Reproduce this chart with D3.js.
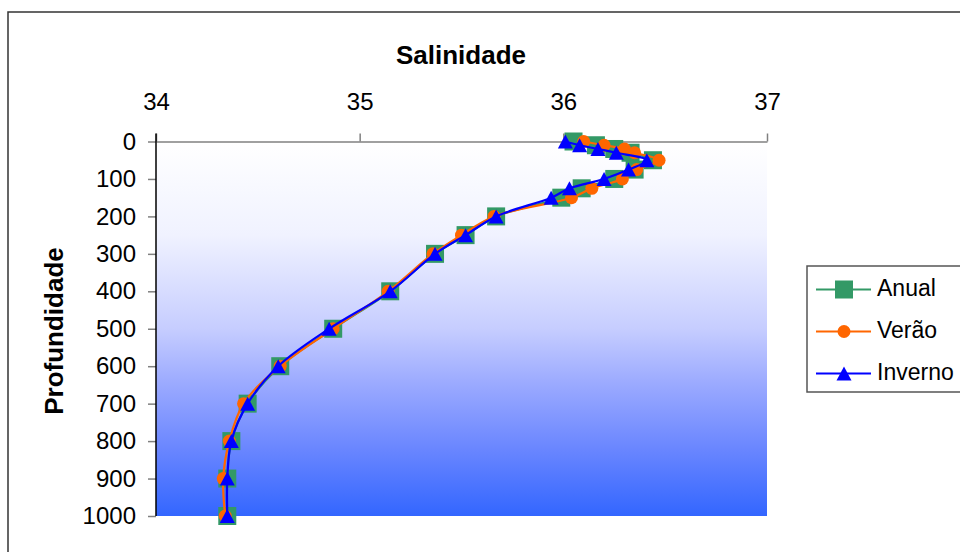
<!DOCTYPE html>
<html>
<head>
<meta charset="utf-8">
<script src="https://cdn.jsdelivr.net/npm/d3@7"></script>
<style>
  body { margin: 0; background: #fff; }
  text { font-family: "Liberation Sans", Arial, sans-serif; }
</style>
</head>
<body>
<script>
const width = 960;
const height = 552;

// profundidade (m) e salinidade por estação
const depths = [0, 10, 20, 30, 50, 75, 100, 125, 150, 200, 250, 300, 400, 500, 600, 700, 800, 900, 1000];
const anual = [36.05, 36.16, 36.25, 36.33, 36.44, 36.35, 36.25, 36.09, 35.99, 35.67, 35.52, 35.37, 35.15, 34.87, 34.61, 34.45, 34.37, 34.35, 34.35];
const verao = [36.10, 36.20, 36.30, 36.35, 36.47, 36.36, 36.29, 36.14, 36.04, 35.66, 35.50, 35.36, 35.14, 34.87, 34.61, 34.43, 34.36, 34.33, 34.34];
const inverno = [36.01, 36.08, 36.17, 36.26, 36.41, 36.32, 36.20, 36.03, 35.94, 35.67, 35.52, 35.37, 35.15, 34.85, 34.60, 34.45, 34.37, 34.35, 34.35];
const xTicks = [34, 35, 36, 37];
const yTicks = [0, 100, 200, 300, 400, 500, 600, 700, 800, 900, 1000];
const seriesNames = ["Anual", "Verão", "Inverno"];
const seriesColors = ["#339966", "#ff6600", "#0000ff"];
const seriesShapes = ["square", "circle", "triangle"];

const plot = { left: 156, right: 767, top: 141.5, bottom: 516 };

const svg = d3
    .select("body")
    .append("svg")
    .attr("width", width)
    .attr("height", height);

// gradiente do fundo
const defs = svg.append("defs");
const grad = defs.append("linearGradient")
    .attr("id", "bg")
    .attr("x1", 0).attr("y1", 0)
    .attr("x2", 0).attr("y2", 1);
[[0, "#ffffff"], [0.25, "#f0f2ff"], [0.5, "#c6cdff"], [0.65, "#9aa9ff"], [0.82, "#6a86ff"], [1, "#3366ff"]]
    .forEach(s => grad.append("stop").attr("offset", s[0]).attr("stop-color", s[1]));

// moldura do gráfico
svg.append("rect")
    .attr("x", 8).attr("y", 12)
    .attr("width", 1000).attr("height", 600)
    .attr("fill", "none")
    .attr("stroke", "#333")
    .attr("stroke-width", 1.5);

const xScale = d3.scaleLinear()
    .domain([34, 37])
    .range([plot.left, plot.right]);

const yScale = d3.scaleLinear()
    .domain([0, 1000])
    .range([plot.top, plot.bottom]);

svg.append("rect")
    .attr("x", plot.left)
    .attr("y", plot.top)
    .attr("width", plot.right - plot.left)
    .attr("height", plot.bottom - plot.top)
    .attr("fill", "url(#bg)");

// eixo X no topo
const xAxis = svg.append("g")
    .attr("transform", `translate(0,${plot.top})`)
    .call(d3.axisTop(xScale)
        .tickValues(xTicks)
        .tickFormat(d3.format("d"))
        .tickSize(8)
        .tickPadding(24)
        .tickSizeOuter(0));
xAxis.select(".domain").attr("stroke", "#808080").attr("stroke-width", 1.5);
xAxis.selectAll(".tick line").attr("stroke", "#808080").attr("stroke-width", 1.5);
xAxis.selectAll(".tick text")
    .attr("font-size", 24)
    .attr("font-family", "Liberation Sans, Arial, sans-serif")
    .attr("fill", "#000");

// eixo Y
const yAxis = svg.append("g")
    .attr("transform", `translate(${plot.left},0)`)
    .call(d3.axisLeft(yScale)
        .tickValues(yTicks)
        .tickFormat(d3.format("d"))
        .tickSize(8)
        .tickPadding(12)
        .tickSizeOuter(0));
yAxis.select(".domain").remove();
yAxis.selectAll(".tick line").attr("stroke", "#808080").attr("stroke-width", 1.5);
yAxis.selectAll(".tick text")
    .attr("font-size", 24)
    .attr("font-family", "Liberation Sans, Arial, sans-serif")
    .attr("fill", "#000");

svg.append("line")
    .attr("x1", plot.left).attr("x2", plot.left)
    .attr("y1", plot.top - 8).attr("y2", plot.bottom)
    .attr("stroke", "#000")
    .attr("stroke-width", 1.5);

// títulos
svg.append("text")
    .attr("x", 461)
    .attr("y", 64)
    .attr("text-anchor", "middle")
    .attr("font-size", 26)
    .attr("font-weight", "bold")
    .text("Salinidade");

svg.append("text")
    .attr("transform", "translate(63,331) rotate(-90)")
    .attr("text-anchor", "middle")
    .attr("font-size", 26)
    .attr("font-weight", "bold")
    .text("Profundidade");

function drawMarker(g, shape, color) {
    if (shape === "square") {
        g.append("rect")
            .attr("x", -9).attr("y", -9)
            .attr("width", 18).attr("height", 18)
            .attr("fill", color);
    } else if (shape === "circle") {
        g.append("circle")
            .attr("r", 6.5)
            .attr("fill", color);
    } else {
        g.append("path")
            .attr("d", "M0,-7L7.5,7L-7.5,7Z")
            .attr("fill", color);
    }
}

const line = d3.line()
    .x(d => xScale(d.s))
    .y(d => yScale(d.depth))
    .curve(d3.curveCatmullRom.alpha(0.5));

const allSeries = [anual, verao, inverno];

allSeries.forEach((values, i) => {
    const pts = depths.map((depth, j) => ({ depth: depth, s: values[j] }));
    const g = svg.append("g");
    g.append("path")
        .datum(pts)
        .attr("d", line)
        .attr("fill", "none")
        .attr("stroke", seriesColors[i])
        .attr("stroke-width", 2.2);
    g.selectAll(".m")
        .data(pts)
        .enter()
        .append("g")
        .attr("transform", d => `translate(${xScale(d.s)},${yScale(d.depth)})`)
        .each(function () {
            drawMarker(d3.select(this), seriesShapes[i], seriesColors[i]);
        });
});

// legenda
const legend = svg.append("g");
legend.append("rect")
    .attr("x", 807).attr("y", 266)
    .attr("width", 200).attr("height", 126)
    .attr("fill", "#fff")
    .attr("stroke", "#555")
    .attr("stroke-width", 1.5);

seriesNames.forEach((name, i) => {
    const cy = 289.5 + i * 42;
    legend.append("line")
        .attr("x1", 816).attr("x2", 871)
        .attr("y1", cy).attr("y2", cy)
        .attr("stroke", seriesColors[i])
        .attr("stroke-width", 2.2);
    const m = legend.append("g").attr("transform", `translate(844,${cy})`);
    drawMarker(m, seriesShapes[i], seriesColors[i]);
    legend.append("text")
        .attr("x", 877)
        .attr("y", cy + 6)
        .attr("font-size", 23)
        .text(name);
});
</script>
</body>
</html>
